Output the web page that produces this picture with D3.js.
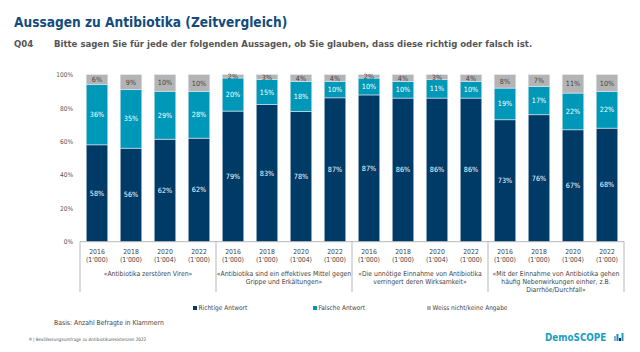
<!DOCTYPE html>
<html lang="de">
<head>
<meta charset="UTF-8">
<title>Aussagen zu Antibiotika</title>
<script src="https://d3js.org/d3.v7.min.js"></script>
<style>
  body { margin: 0; background: #fff; overflow: hidden; }
  svg text { font-family: "DejaVu Sans Condensed", "DejaVu Sans", sans-serif; }
</style>
</head>
<body>
<svg id="chart" width="640" height="352"></svg>
<script>
// data
const statements = [
  ["«Antibiotika zerstören Viren»"],
  ["«Antibiotika sind ein effektives Mittel gegen", "Grippe und Erkältungen»"],
  ["«Die unnötige Einnahme von Antibiotika", "verringert deren Wirksamkeit»"],
  ["«Mit der Einnahme von Antibiotika gehen", "häufig Nebenwirkungen einher, z.B.", "Diarrhöe/Durchfall»"]
];
const years = ["2016", "2018", "2020", "2022"];
const bases = ["(1'000)", "(1'000)", "(1'004)", "(1'000)"];
const richtig = [[58, 56, 62, 62], [79, 83, 78, 87], [87, 86, 86, 86], [73, 76, 67, 68]];
const falsch = [[36, 35, 29, 28], [20, 15, 18, 10], [10, 10, 11, 10], [19, 17, 22, 22]];
const weiss = [[6, 9, 10, 10], [2, 3, 4, 4], [2, 4, 3, 4], [8, 7, 11, 10]];
const seriesNames = ["Richtige Antwort", "Falsche Antwort", "Weiss nicht/keine Angabe"];
const colors = ["#003a66", "#0098b9", "#b4b4b4"];
const labelColors = ["#fff", "#fff", "#444"];

const svg = d3.select("#chart");

// header
svg.append("text").attr("x", 14).attr("y", 27)
  .style("font-size", "13.6px").style("font-weight", "bold").style("fill", "#134b7c")
  .text("Aussagen zu Antibiotika (Zeitvergleich)");
svg.append("text").attr("x", 14).attr("y", 47)
  .style("font-size", "9.5px").style("font-weight", "bold").style("fill", "#555")
  .text("Q04");
svg.append("text").attr("x", 54).attr("y", 47)
  .style("font-size", "9.5px").style("font-weight", "bold").style("fill", "#555")
  .text("Bitte sagen Sie für jede der folgenden Aussagen, ob Sie glauben, dass diese richtig oder falsch ist.");

// scales
const x0 = d3.scaleBand().domain(d3.range(statements.length)).range([80, 624]).padding(0);
const x1 = d3.scaleBand().domain(years).range([0, x0.bandwidth()]).paddingInner(0.365).paddingOuter(0.1825);
const y = d3.scaleLinear().domain([0, 1]).range([241.7, 74.7]);

// y axis labels only
const yAxis = d3.axisLeft(y).tickValues([0, 0.2, 0.4, 0.6, 0.8, 1]).tickFormat(d3.format(".0%")).tickSize(0).tickPadding(0);
const gy = svg.append("g").attr("transform", "translate(73,0)").call(yAxis);
gy.select(".domain").remove();
gy.selectAll("text").style("font-size", "6.5px").style("fill", "#555")
  .style("font-family", "'DejaVu Sans Condensed', sans-serif");

// build stacked rows
const rows = [];
statements.forEach((s, g) => {
  years.forEach((yr, i) => {
    const vals = [richtig[g][i], falsch[g][i], weiss[g][i]];
    const total = d3.sum(vals);
    let acc = 0;
    vals.forEach((v, k) => {
      rows.push({ g: g, year: yr, k: k, v: v, y0: acc / total, y1: (acc + v) / total });
      acc += v;
    });
  });
});

const groups = svg.append("g").selectAll("g.grp")
  .data(statements).join("g").attr("class", "grp")
  .attr("transform", (d, g) => "translate(" + x0(g) + ",0)");

groups.selectAll("rect")
  .data((d, g) => rows.filter(r => r.g === g))
  .join("rect")
  .attr("x", d => x1(d.year))
  .attr("width", x1.bandwidth())
  .attr("y", d => y(d.y1))
  .attr("height", d => y(d.y0) - y(d.y1))
  .style("fill", d => colors[d.k])
  .style("stroke", "#dde6ee")
  .style("stroke-width", 0.6);

groups.selectAll("text.val")
  .data((d, g) => rows.filter(r => r.g === g))
  .join("text").attr("class", "val")
  .attr("x", d => x1(d.year) + x1.bandwidth() / 2)
  .attr("y", d => (y(d.y0) + y(d.y1)) / 2 + 2.5)
  .attr("text-anchor", "middle")
  .style("font-size", "7.2px")
  .style("fill", d => labelColors[d.k])
  .text(d => d.v + "%");

// x axis line and separators
svg.append("line").attr("x1", 80).attr("x2", 624).attr("y1", 241.7).attr("y2", 241.7)
  .style("stroke", "#a6a6a6").style("stroke-width", 0.8);
svg.selectAll("line.sep")
  .data(d3.range(statements.length + 1)).join("line").attr("class", "sep")
  .attr("x1", g => g < statements.length ? x0(g) : x0.range()[1])
  .attr("x2", g => g < statements.length ? x0(g) : x0.range()[1])
  .attr("y1", 241.7).attr("y2", 292)
  .style("stroke", "#a6a6a6").style("stroke-width", 0.8);

// year and base labels
groups.selectAll("text.yr").data(years).join("text").attr("class", "yr")
  .attr("x", d => x1(d) + x1.bandwidth() / 2).attr("y", 254.3)
  .attr("text-anchor", "middle").style("font-size", "6.8px").style("fill", "#444")
  .text(d => d);
groups.selectAll("text.base").data(bases).join("text").attr("class", "base")
  .attr("x", (d, i) => x1(years[i]) + x1.bandwidth() / 2).attr("y", 262)
  .attr("text-anchor", "middle").style("font-size", "6.8px").style("fill", "#444")
  .text(d => d);
groups.selectAll("text.stmt").data(d => d).join("text").attr("class", "stmt")
  .attr("x", x0.bandwidth() / 2).attr("y", (d, i) => 275.8 + i * 8.3)
  .attr("text-anchor", "middle").style("font-size", "6.8px").style("fill", "#444")
  .text(d => d);

// legend
const legendX = [193, 313, 427];
const lg = svg.selectAll("g.leg").data(seriesNames).join("g").attr("class", "leg")
  .attr("transform", (d, i) => "translate(" + legendX[i] + ",308)");
lg.append("rect").attr("x", 0).attr("y", -2).attr("width", 4).attr("height", 4)
  .style("fill", (d, i) => colors[i]);
lg.append("text").attr("x", 5.5).attr("y", 2.3).style("font-size", "6.5px").style("fill", "#444")
  .text(d => d);

// notes and footer
svg.append("text").attr("x", 54).attr("y", 325).style("font-size", "6.8px").style("fill", "#444")
  .text("Basis: Anzahl Befragte in Klammern");
svg.append("text").attr("x", 29).attr("y", 341).style("font-size", "4.6px").style("fill", "#555")
  .text("9 | Bevölkerungsumfrage zu Antibiotikaresistenzen 2022");

// logo
svg.append("text").attr("x", 545).attr("y", 341).style("font-size", "9.8px").style("font-weight", "bold")
  .style("fill", "#1b9fc3").text("DemoSCOPE");
const logo = svg.append("g").attr("transform", "translate(614,333)");
[[0, 3, "#7fb3d5"], [2.5, 1, "#2c7fb8"], [5, 5, "#08306b"], [7.5, 0, "#1b9fc3"]].forEach(b => {
  logo.append("rect").attr("x", b[0]).attr("y", b[1]).attr("width", 2).attr("height", 8 - b[1]).style("fill", b[2]);
});
</script>
</body>
</html>
